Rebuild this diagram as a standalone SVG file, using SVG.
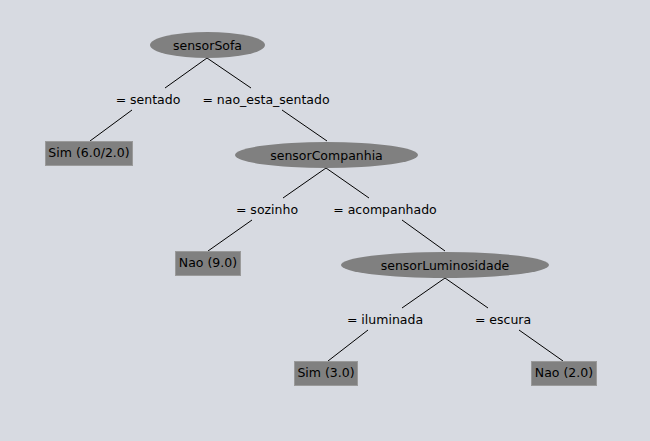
<svg xmlns="http://www.w3.org/2000/svg" width="650" height="441" viewBox="0 0 650 441">
<style>
.bg{fill:#d7dae1}
.ell{fill:#808080}
.box{fill:#808080;stroke:#9a9a9a;stroke-width:1}
.t{font-family:"DejaVu Sans",sans-serif;font-size:12.5px;fill:#000;text-anchor:middle}
.c line{stroke:#000;stroke-width:1}
</style>
<rect class="bg" x="0" y="0" width="650" height="441"/>
<g class="c" id="connectors">
<line x1="207" y1="58" x2="165" y2="88"/>
<line x1="207" y1="58" x2="251" y2="88"/>
<line x1="132" y1="110" x2="90" y2="141"/>
<line x1="282" y1="110" x2="327" y2="141"/>
<line x1="326" y1="168" x2="283" y2="198"/>
<line x1="326" y1="168" x2="369" y2="198"/>
<line x1="252" y1="220" x2="208" y2="251"/>
<line x1="402" y1="220" x2="445" y2="251"/>
<line x1="445" y1="278" x2="402" y2="308"/>
<line x1="445" y1="278" x2="488" y2="308"/>
<line x1="368" y1="330" x2="328" y2="361"/>
<line x1="519" y1="330" x2="563" y2="361"/>
<text class="t" x="148" y="103.5">= sentado</text>
<text class="t" x="266" y="103.5">= nao_esta_sentado</text>
<text class="t" x="267" y="213.5">= sozinho</text>
<text class="t" x="385" y="213.5">= acompanhado</text>
<text class="t" x="385" y="323.5">= iluminada</text>
<text class="t" x="503" y="323.5">= escura</text>
</g>
<g id="sensorSofa"><ellipse class="ell" cx="207.5" cy="45" rx="57.5" ry="13"/><text class="t" x="207.5" y="49.5">sensorSofa</text></g>
<g id="leaf1"><rect class="box" x="45.5" y="141.5" width="87" height="24"/><text class="t" x="89" y="157">Sim (6.0/2.0)</text></g>
<g id="sensorCompanhia"><ellipse class="ell" cx="326.5" cy="155" rx="91.5" ry="13"/><text class="t" x="326.5" y="159.5">sensorCompanhia</text></g>
<g id="leaf2"><rect class="box" x="175.5" y="251.5" width="65" height="24"/><text class="t" x="208" y="267">Nao (9.0)</text></g>
<g id="sensorLuminosidade"><ellipse class="ell" cx="445" cy="265" rx="104" ry="13"/><text class="t" x="445" y="269.5">sensorLuminosidade</text></g>
<g id="leaf3"><rect class="box" x="294.5" y="361.5" width="63" height="24"/><text class="t" x="326" y="377">Sim (3.0)</text></g>
<g id="leaf4"><rect class="box" x="531.5" y="361.5" width="65" height="24"/><text class="t" x="564" y="377">Nao (2.0)</text></g>
</svg>
